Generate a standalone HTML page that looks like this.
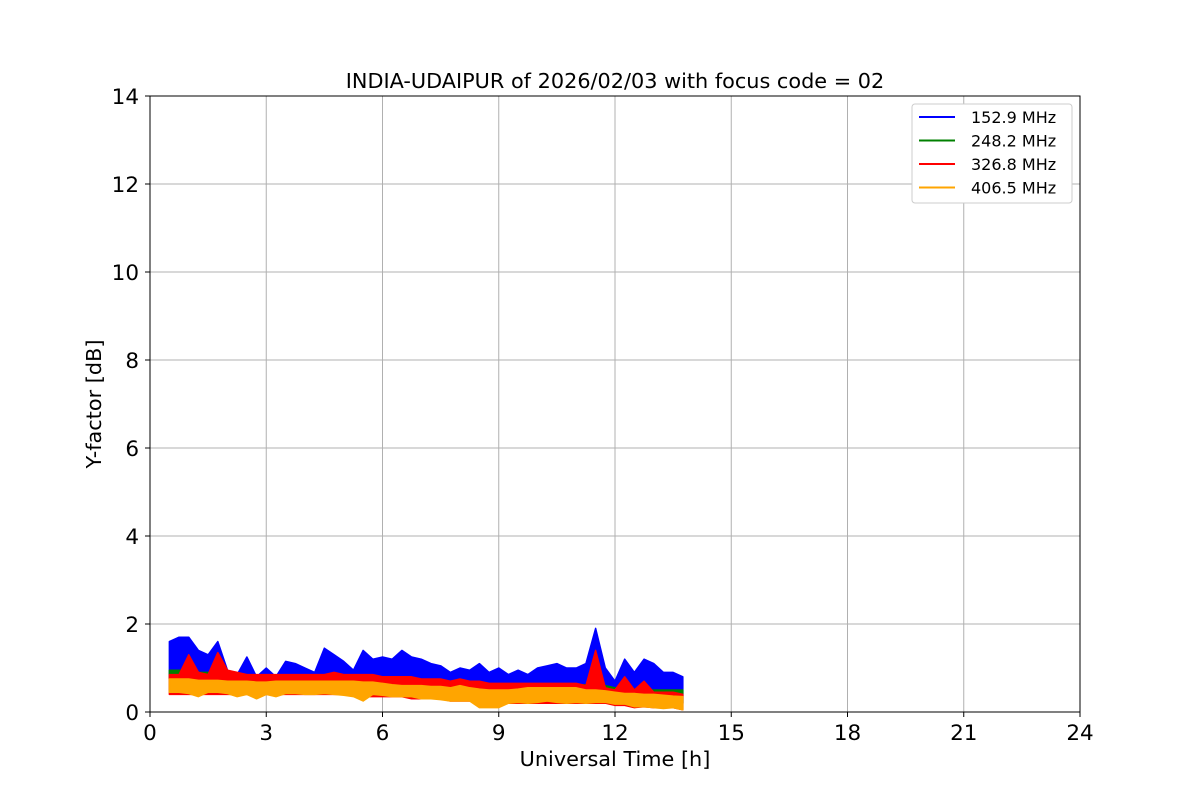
<!DOCTYPE html>
<html><head><meta charset="utf-8"><style>
body{margin:0;background:#fff}
svg{font-family:"DejaVu Sans","Liberation Sans",sans-serif}
</style></head><body>
<svg id="chart" width="1200" height="800" viewBox="0 0 1200 800">
<rect width="1200" height="800" fill="#fff"/>
<g id="grid"></g>
<g id="series"></g>
<rect x="150" y="96" width="930" height="616" fill="none" stroke="#000" stroke-width="1"/>
<g id="ticks"></g>
<text x="615" y="88" text-anchor="middle" font-size="20.8">INDIA-UDAIPUR of 2026/02/03 with focus code = 02</text>
<text x="615" y="766" text-anchor="middle" font-size="20.8">Universal Time [h]</text>
<text x="101" y="404" text-anchor="middle" font-size="20.8" transform="rotate(-90 101 404)">Y-factor [dB]</text>
<g id="legend">
<rect x="912" y="104" width="160" height="99" rx="3" fill="#fff" stroke="#ccc"/>
</g>
</svg>
<script>
const xTicks=[0,3,6,9,12,15,18,21,24];
const yTicks=[0,2,4,6,8,10,12,14];
const seriesNames=["152.9 MHz","248.2 MHz","326.8 MHz","406.5 MHz"];
const seriesColors=["blue","green","red","orange"];
const tStart=0.5, tStep=0.25;
const blueMax=[1.6,1.7,1.7,1.4,1.3,1.6,0.95,0.85,1.25,0.8,1.0,0.8,1.15,1.1,1.0,0.9,1.45,1.3,1.15,0.95,1.4,1.2,1.25,1.2,1.4,1.25,1.2,1.1,1.05,0.9,1.0,0.95,1.1,0.9,1.0,0.85,0.95,0.85,1.0,1.05,1.1,1.0,1.0,1.1,1.9,1.0,0.7,1.2,0.9,1.2,1.1,0.9,0.9,0.8];
const blueMin=[0.5,0.5,0.5,0.5,0.5,0.5,0.45,0.45,0.45,0.45,0.45,0.45,0.45,0.45,0.45,0.45,0.45,0.45,0.45,0.45,0.45,0.45,0.45,0.45,0.4,0.4,0.4,0.4,0.4,0.4,0.35,0.35,0.35,0.35,0.3,0.35,0.35,0.35,0.35,0.35,0.35,0.35,0.35,0.35,0.35,0.3,0.3,0.3,0.25,0.25,0.25,0.25,0.2,0.2];
const greenMax=[0.95,0.95,0.95,0.9,0.9,0.85,0.85,0.85,0.85,0.8,0.8,0.8,0.8,0.8,0.8,0.8,0.8,0.8,0.8,0.8,0.8,0.78,0.78,0.75,0.75,0.75,0.72,0.7,0.7,0.68,0.68,0.65,0.65,0.62,0.6,0.62,0.62,0.62,0.62,0.62,0.62,0.62,0.62,0.62,0.62,0.6,0.55,0.55,0.52,0.5,0.5,0.5,0.5,0.5];
const greenMin=[0.5,0.5,0.5,0.5,0.5,0.5,0.45,0.45,0.45,0.45,0.45,0.45,0.45,0.45,0.45,0.45,0.45,0.45,0.45,0.45,0.45,0.45,0.45,0.45,0.4,0.4,0.4,0.4,0.4,0.4,0.35,0.35,0.35,0.35,0.3,0.35,0.35,0.35,0.35,0.35,0.35,0.35,0.35,0.35,0.35,0.3,0.3,0.3,0.25,0.25,0.25,0.25,0.2,0.2];
const redMax=[0.85,0.85,1.3,0.9,0.85,1.35,0.95,0.9,0.85,0.85,0.85,0.85,0.85,0.85,0.85,0.85,0.85,0.9,0.85,0.85,0.85,0.85,0.8,0.8,0.8,0.8,0.75,0.75,0.75,0.7,0.75,0.7,0.7,0.65,0.65,0.65,0.65,0.65,0.65,0.65,0.65,0.65,0.65,0.6,1.4,0.55,0.5,0.8,0.5,0.7,0.45,0.45,0.45,0.4];
const redMin=[0.4,0.4,0.4,0.4,0.4,0.4,0.4,0.4,0.4,0.4,0.4,0.4,0.4,0.4,0.4,0.4,0.4,0.4,0.4,0.4,0.35,0.35,0.35,0.35,0.35,0.3,0.3,0.3,0.3,0.25,0.25,0.25,0.25,0.2,0.15,0.2,0.2,0.2,0.2,0.2,0.2,0.2,0.2,0.2,0.2,0.2,0.15,0.15,0.1,0.12,0.1,0.1,0.1,0.05];
const orangeMax=[0.75,0.75,0.75,0.72,0.72,0.72,0.7,0.7,0.7,0.68,0.68,0.7,0.7,0.7,0.7,0.7,0.7,0.7,0.7,0.7,0.68,0.68,0.65,0.62,0.6,0.6,0.6,0.58,0.58,0.55,0.6,0.55,0.52,0.5,0.5,0.5,0.52,0.55,0.55,0.55,0.55,0.55,0.55,0.5,0.5,0.48,0.45,0.42,0.42,0.4,0.4,0.38,0.36,0.35];
const orangeMin=[0.45,0.45,0.42,0.35,0.45,0.45,0.42,0.35,0.4,0.3,0.4,0.35,0.42,0.42,0.4,0.4,0.42,0.4,0.38,0.35,0.25,0.4,0.38,0.35,0.35,0.35,0.3,0.3,0.28,0.25,0.25,0.25,0.1,0.1,0.1,0.2,0.22,0.2,0.22,0.25,0.22,0.2,0.22,0.2,0.22,0.22,0.18,0.18,0.12,0.12,0.1,0.08,0.1,0.05];
const maxes=[blueMax,greenMax,redMax,orangeMax];
const mins=[blueMin,greenMin,redMin,orangeMin];
const X=t=>150+t*930/24;
const Y=v=>712-v*616/14;
const NS="http://www.w3.org/2000/svg";
function mk(tag,attrs,parent){const e=document.createElementNS(NS,tag);for(const k in attrs)e.setAttribute(k,attrs[k]);parent.appendChild(e);return e;}
const grid=document.getElementById('grid'),ticks=document.getElementById('ticks');
xTicks.forEach(t=>{
  const g=mk('line',{x1:X(t),x2:X(t),y1:96,y2:712,stroke:'#b0b0b0','stroke-width':1},grid);
  
  
  mk('line',{x1:X(t),x2:X(t),y1:712,y2:717,stroke:'#000'},ticks);
  const l=mk('text',{x:X(t),y:740,'text-anchor':'middle','font-size':21.5},ticks);
  l.textContent=t;
  
  
});
yTicks.forEach(v=>{
  const g=mk('line',{x1:150,x2:1080,y1:Y(v),y2:Y(v),stroke:'#b0b0b0','stroke-width':1},grid);
  
  
  mk('line',{x1:145,x2:150,y1:Y(v),y2:Y(v),stroke:'#000'},ticks);
  const l=mk('text',{x:139,y:Y(v)+8,'text-anchor':'end','font-size':21.5},ticks);
  l.textContent=v;
  
  
});
const sg=document.getElementById('series');
maxes.forEach((mx,i)=>{
  const mn=mins[i];
  const top=mx.map((v,j)=>X(tStart+j*tStep)+','+Y(v));
  const bot=mn.map((v,j)=>X(tStart+j*tStep)+','+Y(v)).reverse();
  const p=mk('polygon',{points:top.concat(bot).join(' '),fill:seriesColors[i],stroke:seriesColors[i],'stroke-width':1.5,'stroke-linejoin':'round'},sg);
  
  
});
const lg=document.getElementById('legend');
seriesNames.forEach((n,i)=>{
  const y=117+i*23.5;
  const ln=mk('line',{x1:919,x2:955,y1:y,y2:y,stroke:seriesColors[i],'stroke-width':2},lg);
  
  
  const t=mk('text',{x:971,y:y+6,'font-size':16},lg);
  t.textContent=n;
  
  
});
</script>
</body></html>
